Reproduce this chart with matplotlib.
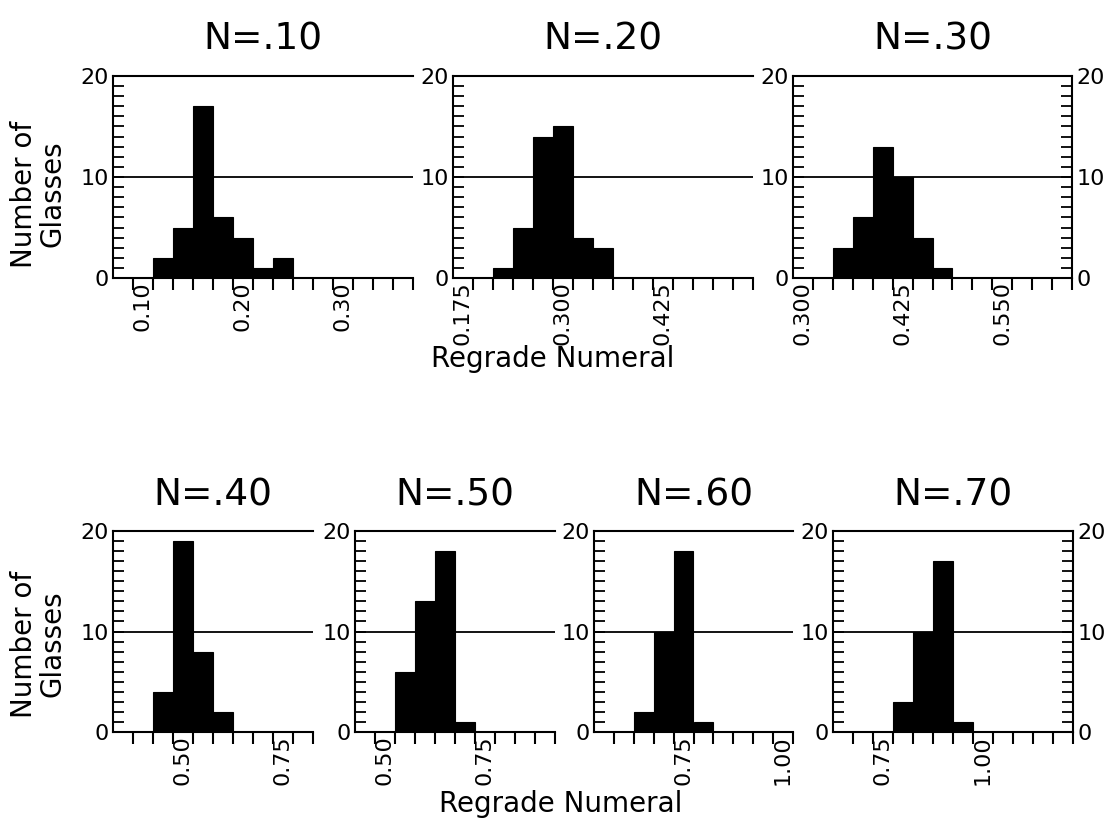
import numpy as np
import matplotlib.pyplot as plt
from matplotlib.ticker import MultipleLocator

plt.rcParams['font.family'] = ['DejaVu Sans']

# histogram data
titles = ["N=.10", "N=.20", "N=.30", "N=.40", "N=.50", "N=.60", "N=.70"]
bin_start = [0.10, 0.200, 0.325, 0.40, 0.50, 0.60, 0.75]
bin_width = [0.02, 0.025, 0.025, 0.05, 0.05, 0.05, 0.05]
counts = [
    [2, 5, 17, 6, 4, 1, 2],
    [1, 5, 14, 15, 4, 3],
    [3, 6, 13, 10, 4, 1],
    [4, 19, 8, 2],
    [6, 13, 18, 1],
    [2, 10, 18, 1],
    [3, 10, 17, 1],
]
x_limits = [(0.06, 0.36), (0.15, 0.525), (0.275, 0.625),
            (0.30, 0.80), (0.40, 0.90), (0.50, 1.00), (0.60, 1.20)]
tick_labels = [["0.10", "0.20", "0.30"],
               ["0.175", "0.300", "0.425"],
               ["0.300", "0.425", "0.550"],
               ["0.50", "0.75"],
               ["0.50", "0.75"],
               ["0.75", "1.00"],
               ["0.75", "1.00"]]
y_ticks = [0, 10, 20]

# panel boxes in pixels: left, top, width, height
W, H = 1111, 819
boxes = [(113, 76, 300, 202), (453, 76, 300, 202), (793, 76, 279, 202),
         (113, 531, 200, 201), (355, 531, 200, 201), (594, 531, 199, 201),
         (833, 531, 240, 201)]
right_axis = [False, False, True, False, False, False, True]

fig = plt.figure(figsize=(W / 100, H / 100), dpi=100)

for i in range(len(titles)):
    l, t, w, h = boxes[i]
    ax = fig.add_axes([l / W, 1 - (t + h) / H, w / W, h / H])

    ax.bar(bin_start[i] + bin_width[i] * np.arange(len(counts[i])), counts[i],
           width=bin_width[i], align='edge', color='black', edgecolor='black',
           linewidth=0.8, zorder=2)
    ax.axhline(10, color='black', lw=1.3, zorder=1)

    x0, x1 = x_limits[i]
    ax.set_xlim(x0, x1)
    ax.set_ylim(0, 20)

    n = int(round((x1 - x0) / bin_width[i]))
    ticks = x0 + bin_width[i] * np.arange(1, n + 1)
    labels = []
    for tk in ticks:
        lab = ""
        for s in tick_labels[i]:
            if abs(float(s) - tk) < 1e-6:
                lab = s
        labels.append(lab)
    ax.set_xticks(ticks)
    ax.set_xticklabels(labels, rotation=90, ha='right', va='top', fontsize=16)
    ax.tick_params(axis='x', direction='out', length=8.5, width=1.5, pad=-6)

    ax.set_yticks(y_ticks)
    ax.yaxis.set_minor_locator(MultipleLocator(1))
    ax.tick_params(axis='y', which='both', direction='in', length=8, width=1.3,
                   labelsize=16, pad=3)
    if right_axis[i]:
        ax.tick_params(axis='y', which='both', right=True, labelright=True)
    else:
        ax.spines['right'].set_visible(False)

    for sp in ax.spines.values():
        sp.set_linewidth(1.5)

    ax.set_title(titles[i], fontsize=27, pad=19 if i < 3 else 18)

# shared labels
for yc in [194, 644]:
    fig.text(38 / W, 1 - yc / H, "Number of\nGlasses", rotation=90, fontsize=20,
             ha='center', va='center', multialignment='center', linespacing=1.0)
fig.text(553 / W, 1 - 367 / H, "Regrade Numeral", fontsize=20, ha='center',
         va='baseline')
fig.text(561 / W, 1 - 812 / H, "Regrade Numeral", fontsize=20, ha='center',
         va='baseline')

fig.savefig("out.png", dpi=100)
